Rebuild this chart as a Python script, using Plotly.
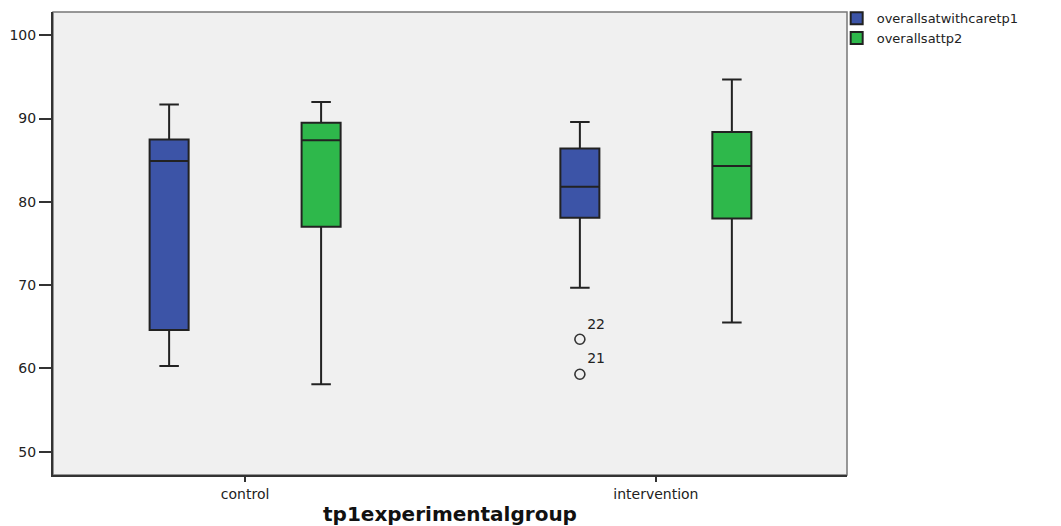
import plotly.graph_objects as go

# ---- data ----
categories = ["control", "intervention"]
series_names = ["overallsatwithcaretp1", "overallsattp2"]

tp1_lowerfence = [60.3, 69.7]
tp1_q1 = [64.6, 78.1]
tp1_median = [84.9, 81.8]
tp1_q3 = [87.5, 86.4]
tp1_upperfence = [91.7, 89.6]

tp2_lowerfence = [58.1, 65.5]
tp2_q1 = [77.0, 78.0]
tp2_median = [87.4, 84.3]
tp2_q3 = [89.5, 88.4]
tp2_upperfence = [92.0, 94.7]

outlier_group = ["intervention", "intervention"]
outlier_values = [63.5, 59.3]
outlier_labels = ["22", "21"]

y_ticks = [50, 60, 70, 80, 90, 100]
x_title = "tp1experimentalgroup"

# ---- styling ----
BLUE = "#3c54a7"
GREEN = "#2eb84b"
EDGE = "#222222"
FONT = "DejaVu Sans"
offset = 0.185
box_w = 0.095

idx = {c: i for i, c in enumerate(categories)}
xpos = list(range(len(categories)))

fig = go.Figure()

fig.add_trace(go.Box(
    name=series_names[0],
    x=[p - offset for p in xpos],
    q1=tp1_q1, median=tp1_median, q3=tp1_q3,
    lowerfence=tp1_lowerfence, upperfence=tp1_upperfence,
    fillcolor=BLUE, line=dict(color=EDGE, width=2),
    width=box_w, whiskerwidth=0.5, boxpoints=False,
    hoverinfo="skip",
))
fig.add_trace(go.Box(
    name=series_names[1],
    x=[p + offset for p in xpos],
    q1=tp2_q1, median=tp2_median, q3=tp2_q3,
    lowerfence=tp2_lowerfence, upperfence=tp2_upperfence,
    fillcolor=GREEN, line=dict(color=EDGE, width=2),
    width=box_w, whiskerwidth=0.5, boxpoints=False,
    hoverinfo="skip",
))

fig.add_trace(go.Scatter(
    x=[idx[g] - offset for g in outlier_group],
    y=outlier_values,
    mode="markers+text",
    text=outlier_labels,
    textposition="top right",
    textfont=dict(family=FONT, size=14, color="#222"),
    marker=dict(symbol="circle-open", size=10, color="#333", line=dict(width=1.6)),
    showlegend=False, hoverinfo="skip",
))

fig.update_layout(
    width=1061, height=526,
    margin=dict(l=53, r=214, t=12, b=51, autoexpand=False),
    paper_bgcolor="white",
    plot_bgcolor="#f0f0f0",
    boxmode="overlay",
    font=dict(family=FONT, size=14, color="#222"),
    legend=dict(
        x=0.987, xanchor="left", y=1.019, yanchor="top",
        bgcolor="rgba(0,0,0,0)",
        font=dict(family=FONT, size=13, color="#222"),
        itemwidth=30,
        tracegroupgap=0,
    ),
    xaxis=dict(
        range=[-0.4677, 1.4653],
        tickvals=xpos, ticktext=categories,
        ticks="outside", ticklen=5, tickwidth=1.5, tickcolor="#333",
        showline=True, linecolor="#333", linewidth=2,
        showgrid=False, zeroline=False, automargin=False,
        title=dict(text="<b>" + x_title + "</b>",
                   font=dict(family=FONT, size=20, color="#111"), standoff=8),
        tickfont=dict(family=FONT, size=14, color="#222"),
    ),
    yaxis=dict(
        range=[47.2, 102.8],
        tickvals=y_ticks,
        ticks="outside", ticklen=12, tickwidth=1.5, tickcolor="#333",
        showline=True, linecolor="#333", linewidth=2,
        showgrid=False, zeroline=False, automargin=False,
        tickfont=dict(family=FONT, size=14, color="#222"),
    ),
    shapes=[dict(type="rect", xref="paper", yref="paper", x0=0, x1=1, y0=0, y1=1,
                 line=dict(color="#777", width=1.5), layer="below")],
)

fig.write_html("out.html")
